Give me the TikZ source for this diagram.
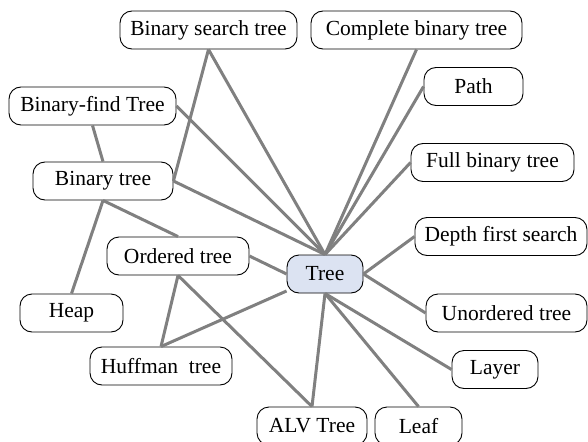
\documentclass[tikz,border=0pt]{standalone}
\usepackage{fontspec}
\setmainfont{Liberation Serif}
\definecolor{edgegray}{RGB}{128,128,128}
\definecolor{treefill}{RGB}{220,227,242}
\begin{document}
\begin{tikzpicture}[x=1pt,y=-1pt,
  box/.style={draw=black,line width=0.9pt,rounded corners=12pt,fill=white,inner sep=0pt,
    minimum height=38pt,font=\fontsize{21.5}{25}\selectfont},
  link/.style={draw=edgegray,line width=3pt}]
\useasboundingbox (0,0) rectangle (588,441);
\node[box,minimum width=177pt] (bst) at (208.5,30) {Binary search tree};
\node[box,minimum width=211pt] (cbt) at (416.5,30) {Complete binary tree};
\node[box,minimum width=99pt] (path) at (473.5,86.5) {Path};
\node[box,minimum width=163pt] (full) at (492.5,162.5) {Full binary tree};
\node[box,minimum width=167pt] (bft) at (92.5,106) {Binary-find Tree};
\node[box,minimum width=140pt] (bt) at (103,181) {Binary tree};
\node[box,minimum width=142pt] (ord) at (178,256) {Ordered tree};
\node[box,minimum width=103pt] (heap) at (71.5,313) {Heap};
\node[box,minimum width=142pt] (huff) at (161,366) {Huffman\ \ tree};
\node[box,minimum width=110pt] (alv) at (312,426) {ALV Tree};
\node[box,minimum width=87pt] (leaf) at (418.5,426) {Leaf};
\node[box,minimum width=76pt,fill=treefill] (tree) at (325,274) {Tree};
\node[box,minimum width=172pt] (dfs) at (501,236.5) {Depth first search};
\node[box,minimum width=161pt] (unord) at (506.5,313) {Unordered tree};
\node[box,minimum width=86pt] (layer) at (495,369.5) {Layer};
\path[link] (bst.south) -- (tree.north);
\path[link] (bst.south) -- (bt.east);
\path[link] (bft.east) -- (tree.north);
\path[link] (bft.south) -- (bt.north);
\path[link] (bt.east) -- (tree.north);
\path[link] (bt.south) -- (heap.north);
\path[link] (bt.south) -- (ord.north);
\path[link] (ord.east) -- (tree.west);
\path[link] (ord.south) -- (huff.north);
\path[link] (ord.south) -- (alv.north);
\path[link] (huff.north) -- (tree);
\path[link] (tree.south) -- (alv.north);
\path[link] (tree.south) -- (leaf.north);
\path[link] (tree.south) -- (layer.west);
\path[link] (tree.east) -- (unord.west);
\path[link] (tree.east) -- (dfs.west);
\path[link] (tree.north) -- (full.west);
\path[link] (tree.north) -- (path.west);
\path[link] (tree.north) -- (cbt.south);
\end{tikzpicture}
\end{document}
